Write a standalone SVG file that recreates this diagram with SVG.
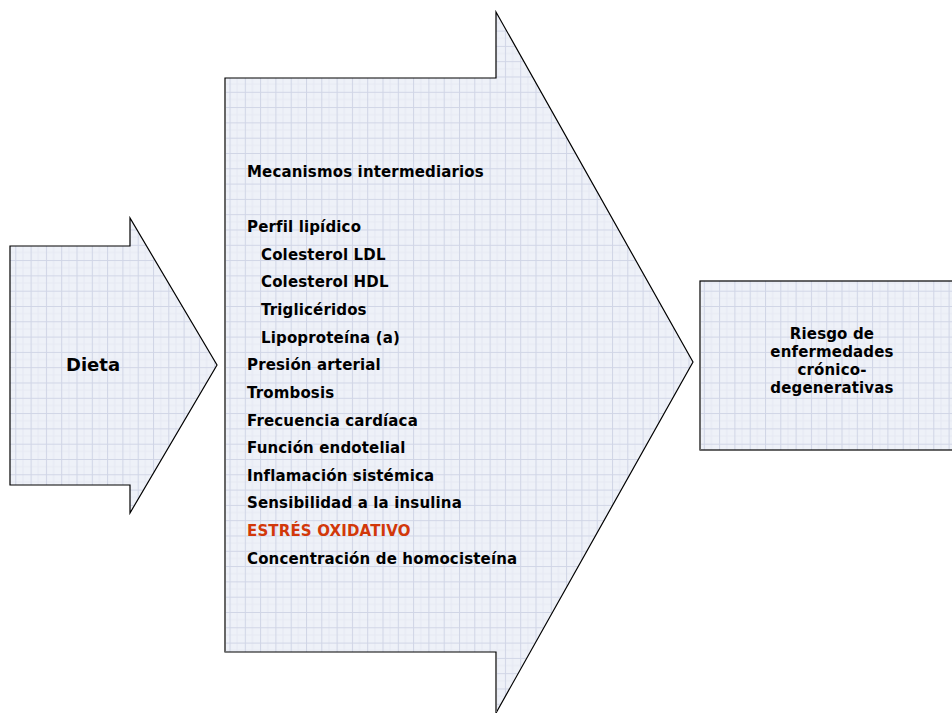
<svg xmlns="http://www.w3.org/2000/svg" width="952" height="713" viewBox="0 0 952 713">
<defs>
<pattern id="grid" width="15.3" height="15.3" patternUnits="userSpaceOnUse">
<rect width="15.3" height="15.3" fill="#EEF1F8"/>
<path d="M0 7.65H15.3M7.65 0V15.3" stroke="#E6E9F3" stroke-width="1" fill="none"/>
<path d="M0 0.5H15.3M0.5 0V15.3" stroke="#D0D5E6" stroke-width="1" fill="none"/>
</pattern>
<style>
.shape{fill:url(#grid);stroke:#000;stroke-width:1.2}
.shadow{fill:none;stroke:#666;stroke-width:2}
.t{font-family:"DejaVu Sans","Verdana",sans-serif;font-weight:bold;font-size:15px;letter-spacing:0.15px;fill:#000}
.big{font-size:18px;letter-spacing:0}
.red{fill:#D2380A}
</style>
</defs>
<rect width="952" height="713" fill="#fff"/>
<g id="dieta">
<path class="shape" d="M10 246H130V218L217 365L130 513V485H10Z"/>
<text class="t big" x="93" y="371" text-anchor="middle">Dieta</text>
</g>
<g id="mecanismos">
<path class="shape" d="M225 78H496V12L693 362L496 713V652H225Z"/>
<path class="shadow" d="M225 79V652M496 653V712"/>
<g class="t">
<text x="247" y="177">Mecanismos intermediarios</text>
<text x="247" y="232">Perfil lipídico</text>
<text x="261" y="260">Colesterol LDL</text>
<text x="261" y="287">Colesterol HDL</text>
<text x="261" y="315">Triglicéridos</text>
<text x="261" y="343">Lipoproteína (a)</text>
<text x="247" y="370">Presión arterial</text>
<text x="247" y="398">Trombosis</text>
<text x="247" y="426">Frecuencia cardíaca</text>
<text x="247" y="453">Función endotelial</text>
<text x="247" y="481">Inflamación sistémica</text>
<text x="247" y="508">Sensibilidad a la insulina</text>
<text x="247" y="536" class="red">ESTRÉS OXIDATIVO</text>
<text x="247" y="564">Concentración de homocisteína</text>
</g>
</g>
<g id="riesgo">
<rect class="shape" x="700" y="281" width="260" height="169"/>
<path class="shadow" d="M700 282V450"/>
<g class="t" text-anchor="middle">
<text x="832" y="339">Riesgo de</text>
<text x="832" y="357">enfermedades</text>
<text x="832" y="375">crónico-</text>
<text x="832" y="393">degenerativas</text>
</g>
</g>
<g id="connectors"/>
</svg>
